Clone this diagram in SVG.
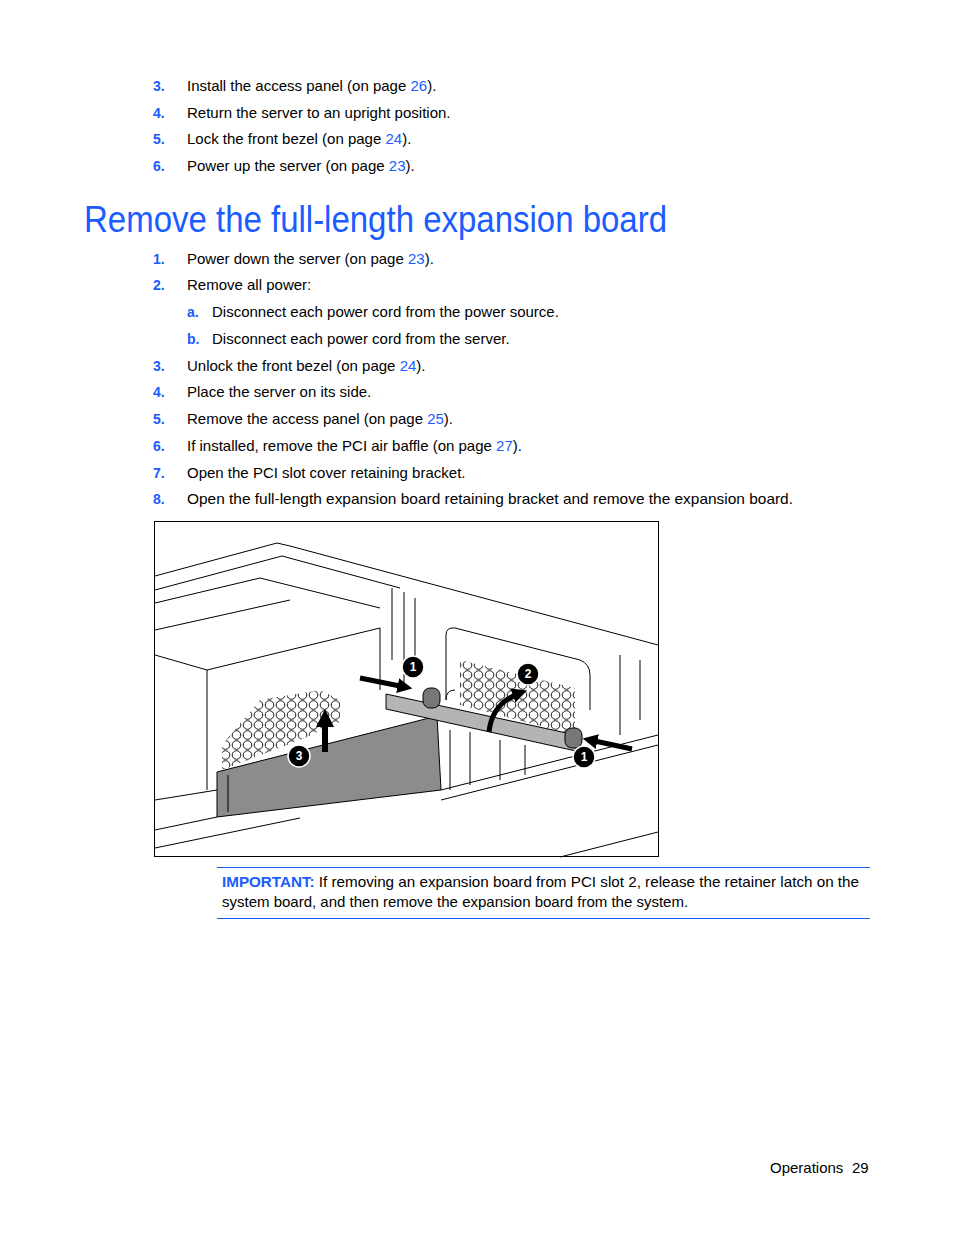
<svg xmlns="http://www.w3.org/2000/svg" width="954" height="1235" viewBox="0 0 954 1235">
<style>
.t{font-family:"Liberation Sans",Arial,sans-serif;font-size:15px;fill:#000}
.n{font-family:"Liberation Sans",Arial,sans-serif;font-size:14px;font-weight:bold;fill:#1a5cff}
.l{fill:#1a5cff}
.ln{fill:none;stroke:#000;stroke-width:1}
.cn{fill:#000;stroke:#fff;stroke-width:1.5}
.cl{font-family:"Liberation Sans",sans-serif;font-size:12px;font-weight:bold;fill:#fff;text-anchor:middle}
</style>
<defs>
<pattern id="hex" width="11" height="10" patternUnits="userSpaceOnUse">
<rect width="11" height="10" fill="#fff"/>
<circle cx="5.5" cy="5" r="4.3" fill="none" stroke="#000" stroke-width="0.9"/>
</pattern>
<marker id="ah" viewBox="0 0 10 10" refX="5" refY="5" markerWidth="3" markerHeight="3" orient="auto"><path d="M0,0L10,5L0,10z" fill="#000"/></marker>
</defs>
<rect width="954" height="1235" fill="#fff"/>
<g id="list1">
<text class="n" x="153" y="91">3.</text><text class="t" x="187" y="91">Install the access panel (on page <tspan class="l">26</tspan>).</text>
<text class="n" x="153" y="118">4.</text><text class="t" x="187" y="118">Return the server to an upright position.</text>
<text class="n" x="153" y="144">5.</text><text class="t" x="187" y="144">Lock the front bezel (on page <tspan class="l">24</tspan>).</text>
<text class="n" x="153" y="171">6.</text><text class="t" x="187" y="171">Power up the server (on page <tspan class="l">23</tspan>).</text>
</g>
<text id="title" x="84" y="232" font-family="'Liberation Sans',Arial,sans-serif" font-size="37" fill="#1a5cff" textLength="583" lengthAdjust="spacingAndGlyphs">Remove the full-length expansion board</text>
<g id="list2">
<text class="n" x="153" y="264">1.</text><text class="t" x="187" y="264">Power down the server (on page <tspan class="l">23</tspan>).</text>
<text class="n" x="153" y="290">2.</text><text class="t" x="187" y="290">Remove all power:</text>
<text class="n" x="187" y="317">a.</text><text class="t" x="212" y="317">Disconnect each power cord from the power source.</text>
<text class="n" x="187" y="344">b.</text><text class="t" x="212" y="344">Disconnect each power cord from the server.</text>
<text class="n" x="153" y="371">3.</text><text class="t" x="187" y="371">Unlock the front bezel (on page <tspan class="l">24</tspan>).</text>
<text class="n" x="153" y="397">4.</text><text class="t" x="187" y="397">Place the server on its side.</text>
<text class="n" x="153" y="424">5.</text><text class="t" x="187" y="424">Remove the access panel (on page <tspan class="l">25</tspan>).</text>
<text class="n" x="153" y="451">6.</text><text class="t" x="187" y="451">If installed, remove the PCI air baffle (on page <tspan class="l">27</tspan>).</text>
<text class="n" x="153" y="478">7.</text><text class="t" x="187" y="478">Open the PCI slot cover retaining bracket.</text>
<text class="n" x="153" y="504">8.</text><text class="t" x="187" y="504" textLength="606" lengthAdjust="spacingAndGlyphs">Open the full-length expansion board retaining bracket and remove the expansion board.</text>
</g>
<g id="figure">
<rect x="154.5" y="521.5" width="504" height="335" fill="#fff" stroke="#000"/>
<g class="ln">
<path d="M155,576 L277,543 L290,546 L658,645"/>
<path d="M155,590 L282,556 L400,588"/>
<path d="M155,603 L260,578 L380,608"/>
<path d="M155,630 L290,600"/>
<path d="M207,670 L380,628"/>
<path d="M207,670 L207,790"/>
<path d="M155,655 L207,670"/>
<path d="M380,628 L380,690 M392,588 L392,660 M404,592 L404,690 M415,598 L415,660"/>
<path d="M446,635 L446,700 Q446,690 455,690 M446,635 Q446,627 455,628 L580,660 Q590,664 590,675 L590,710"/>
<path d="M620,655 L620,735 M640,660 L640,720"/>
<path d="M155,800 L217,790 M155,830 L217,817 M441,790 L658,735 M441,800 L658,745 M560,857 L658,832 M155,848 L300,818"/>
<path d="M450,730 L450,790 M470,732 L470,785 M500,740 L500,780 M525,745 L525,775"/>
</g>
<polygon points="222,745 260,700 320,690 340,700 340,722 300,740 222,770" fill="url(#hex)" stroke="none"/>
<polygon points="460,660 575,688 575,735 460,705" fill="url(#hex)" stroke="none"/>
<polygon points="217,772 437,716 441,790 217,817" fill="#8c8c8c" stroke="#000"/>
<path d="M228,775 L228,812" stroke="#000" fill="none"/>
<polygon points="386,694 576,735 576,751 386,709" fill="#b4b4b4" stroke="#000"/>
<rect x="423" y="688" width="17" height="20" rx="7" fill="#777" stroke="#000"/>
<rect x="565" y="728" width="17" height="20" rx="7" fill="#777" stroke="#000"/>
</g>
<g id="connectors">
<path d="M360,678 L405,687" stroke="#000" stroke-width="5" marker-end="url(#ah)"/>
<path d="M632,749 L590,740" stroke="#000" stroke-width="5" marker-end="url(#ah)"/>
<path d="M489,732 Q492,703 520,693" stroke="#000" stroke-width="5" fill="none" marker-end="url(#ah)"/>
<path d="M325,752 L325,718" stroke="#000" stroke-width="6" marker-end="url(#ah)"/>
</g>
<g id="c1a"><circle class="cn" cx="413" cy="667" r="11"/><text class="cl" x="413" y="671">1</text></g>
<g id="c2"><circle class="cn" cx="528" cy="674" r="11"/><text class="cl" x="528" y="678">2</text></g>
<g id="c1b"><circle class="cn" cx="584" cy="757" r="11"/><text class="cl" x="584" y="761">1</text></g>
<g id="c3"><circle class="cn" cx="299" cy="756" r="11"/><text class="cl" x="299" y="760">3</text></g>
<g id="note">
<line x1="217" y1="867.5" x2="870" y2="867.5" stroke="#1a5cff"/>
<text class="t" x="222" y="887" textLength="637" lengthAdjust="spacingAndGlyphs"><tspan font-weight="bold" fill="#1a5cff">IMPORTANT:</tspan> If removing an expansion board from PCI slot 2, release the retainer latch on the</text>
<text class="t" x="222" y="907">system board, and then remove the expansion board from the system.</text>
<line x1="217" y1="918.5" x2="870" y2="918.5" stroke="#1a5cff"/>
</g>
<text class="t" x="770" y="1173">Operations</text>
<text class="t" x="852" y="1173">29</text>
</svg>
